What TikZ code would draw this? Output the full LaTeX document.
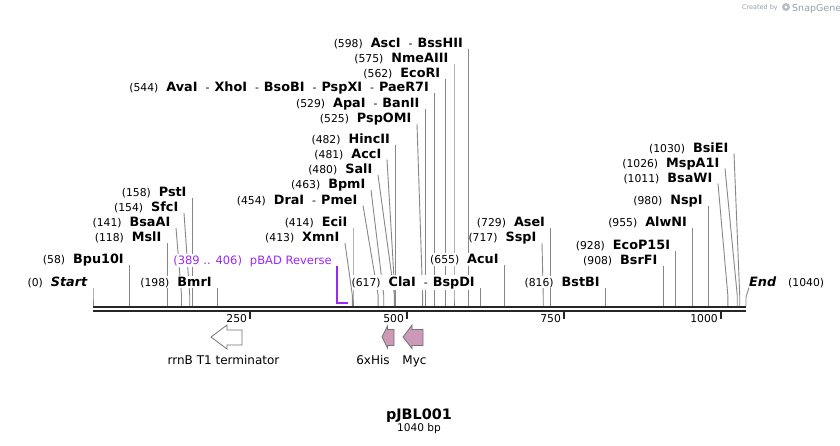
\documentclass[tikz,border=0pt]{standalone}
\usepackage{fontspec}
\setmainfont{DejaVu Sans}
\pgfdeclarelayer{bg}
\pgfdeclarelayer{lines}
\pgfsetlayers{bg,lines,main}
\definecolor{cutgray}{RGB}{135,135,135}
\definecolor{primer}{RGB}{155,40,245}
\definecolor{featpink}{RGB}{204,153,184}
\definecolor{bbone}{RGB}{38,38,38}
\definecolor{wmgray}{RGB}{150,160,170}
\newcommand\pnum[1]{{\fontsize{10.8pt}{13pt}\selectfont(#1)}}
\newcommand\ename[1]{{\fontsize{12.8pt}{14pt}\selectfont\bfseries #1}}
\newcommand\esep{\hspace{8pt}{\fontsize{10.8pt}{13pt}\selectfont-}\hspace{5pt}}
\newcommand\lab[2]{\pnum{#1}\hspace{8pt}\ename{#2}}
\tikzset{
  sitelabel/.style={anchor=base east, inner xsep=0pt, inner ysep=1pt, fill=white},
  cutline/.style={draw=cutgray, line width=0.9pt},
  backbone/.style={draw=bbone, line width=2.3pt},
  tickmark/.style={draw=bbone, line width=2pt},
  ticklabel/.style={anchor=base east, inner sep=0pt, font=\fontsize{10.8pt}{13pt}\selectfont},
  featlabel/.style={anchor=base, inner sep=0pt, font=\fontsize{12pt}{14pt}\selectfont},
  featshape/.style={draw=black!55, line width=0.8pt, line join=miter},
}
% \site{id}{line top x}{baseline}{label}{cut x}
\newcommand\site[5]{%
  \node[sitelabel] (L#1) at ({#2-5.5},#3) {#4};
  \coordinate (C#1) at (#5,306);
  \begin{pgfonlayer}{lines}
  \draw[cutline] ([xshift=5.5pt,yshift=-1.5pt]L#1.base east) -- ([yshift=11pt]C#1) -- (C#1);
  \end{pgfonlayer}
}
\begin{document}
\begin{tikzpicture}[x=1pt,y=-1pt]
\begin{pgfonlayer}{bg}
\fill[white] (0,0) rectangle (840,445);
\end{pgfonlayer}
\useasboundingbox (0,0) rectangle (840,445);

% watermark
\node[anchor=base east, inner sep=0pt, text=wmgray, font=\fontsize{6.5pt}{8pt}\selectfont] (wm1) at (778,9.5) {Created by};
\fill[wmgray!70] (786,7) circle (4);
\fill[white] (786,7) circle (1.6);
\node[anchor=base west, inner sep=0pt, text=wmgray, font=\fontsize{9.5pt}{11pt}\selectfont] (wm2) at (792,11) {SnapGene};

% backbone
\coordinate (B0) at (93,307);
\coordinate (B1) at (746,307);
\coordinate (B2) at (93,311.2);
\coordinate (B3) at (746,311.2);
\draw[backbone] (B0) -- (B1);
\draw[backbone] (B2) -- (B3);

% ticks
\foreach \tx/\tl in {250.0/250, 406.9/500, 563.9/750, 720.8/1000}{
  \draw[tickmark] (\tx,312.3) -- (\tx,319.2);
  \node[ticklabel] at (\tx-2.8,322.7) {\tl};
}

% cut sites
\site{Start}{93}{286}{\pnum{0}\hspace{8pt}\ename{\itshape Start}}{93}
\site{BmrI}{217.3}{286}{\lab{198}{BmrI}}{217.3}
\site{ClaI}{480.4}{286}{\lab{617}{ClaI}\esep\ename{BspDI}}{480.4}
\site{BstBI}{605.4}{286}{\lab{816}{BstBI}}{605.4}

\site{BpuI}{129.4}{263.5}{\lab{58}{Bpu10I}}{129.4}
\site{AcuI}{504.3}{263.5}{\lab{655}{AcuI}}{504.3}
\site{BsrFI}{663.1}{264}{\lab{908}{BsrFI}}{663.1}
\site{EcoP}{675.7}{249}{\lab{928}{EcoP15I}}{675.7}

\site{MslI}{167.1}{241.7}{\lab{118}{MslI}}{167.1}
\site{XmnI}{345}{241.7}{\lab{413}{XmnI}}{352.3}
\site{SspI}{542}{241.7}{\lab{717}{SspI}}{543.2}

\site{BsaAI}{176}{226.5}{\lab{141}{BsaAI}}{181.5}
\site{EciI}{353.0}{226.5}{\lab{414}{EciI}}{353.0}
\site{AseI}{550.7}{226.5}{\lab{729}{AseI}}{550.7}
\site{AlwNI}{692.6}{226.5}{\lab{955}{AlwNI}}{692.6}

\site{SfcI}{184}{211.7}{\lab{154}{SfcI}}{189.7}
\site{PmeI}{363}{204}{\lab{454}{DraI}\esep\ename{PmeI}}{378.1}
\site{NspI}{708.3}{204}{\lab{980}{NspI}}{708.3}
\site{PstI}{192.2}{196.7}{\lab{158}{PstI}}{192.2}
\site{BpmI}{371}{188.5}{\lab{463}{BpmI}}{383.7}
\site{BsaWI}{718}{182}{\lab{1011}{BsaWI}}{727.8}
\site{SalI}{378}{173.5}{\lab{480}{SalI}}{394.4}
\site{MspAI}{725}{167}{\lab{1026}{MspA1I}}{737.2}
\site{AccI}{387}{158}{\lab{481}{AccI}}{395.0}
\site{BsiEI}{734}{152}{\lab{1030}{BsiEI}}{739.7}
\site{HincII}{395.6}{143}{\lab{482}{HincII}}{395.6}

\site{PspOMI}{417}{122.7}{\lab{525}{PspOMI}}{422.6}
\site{ApaI}{425.2}{107}{\lab{529}{ApaI}\esep\ename{BanII}}{425.2}
\site{AvaI}{434.6}{91.5}{\lab{544}{AvaI}\esep\ename{XhoI}\esep\ename{BsoBI}\esep\ename{PspXI}\esep\ename{PaeR7I}}{434.6}
\site{EcoRI}{445.9}{77}{\lab{562}{EcoRI}}{445.9}
\site{NmeAIII}{454.0}{62}{\lab{575}{NmeAIII}}{454.0}
\site{AscI}{468.5}{47}{\lab{598}{AscI}\esep\ename{BssHII}}{468.5}

% End
\node[anchor=base west, inner xsep=0pt, inner ysep=1pt, fill=white] (LEnd) at (749,286) {\ename{\itshape End}\hspace{12pt}\pnum{1040}};
\coordinate (CEnd) at (746,306);
\begin{pgfonlayer}{lines}
\draw[cutline] (CEnd) -- ([yshift=9pt]CEnd) -- ([yshift=-1.5pt]LEnd.base west);
\end{pgfonlayer}

% primer
\node[sitelabel, text=primer] (LpBAD) at (332,264) {\fontsize{11.5pt}{13pt}\selectfont(389 .. 406)\hspace{8pt}pBAD Reverse};
\coordinate (PEnd) at (348,302.5);
\draw[draw=primer, line width=2pt] ([xshift=5pt,yshift=-1.5pt]LpBAD.base east) |- (PEnd);

% features
\draw[featshape, fill=white] (211,337) -- (227,325) -- (227,330) -- (242,330) -- (242,345) -- (227,345) -- (227,349) -- cycle;
\draw[featshape, fill=featpink] (382,337) -- (387.5,326) -- (387.5,329.5) -- (394,329.5) -- (394,345.5) -- (387.5,345.5) -- (387.5,348) -- cycle;
\draw[featshape, fill=featpink] (403,337) -- (412,325) -- (412,329.5) -- (423,329.5) -- (423,345.5) -- (412,345.5) -- (412,348.5) -- cycle;
\node[featlabel] (frrnB) at (223.5,364) {rrnB T1 terminator};
\node[featlabel] (fHis) at (373,364) {6xHis};
\node[featlabel] (fMyc) at (414.5,364) {Myc};

% title
\node[anchor=base, inner sep=0pt, font=\fontsize{14.4pt}{16pt}\selectfont\bfseries] (title) at (419,419) {pJBL001};
\node[anchor=base, inner sep=0pt, font=\fontsize{10.6pt}{12pt}\selectfont] (size) at (419,431.3) {1040 bp};
\end{tikzpicture}
\end{document}
